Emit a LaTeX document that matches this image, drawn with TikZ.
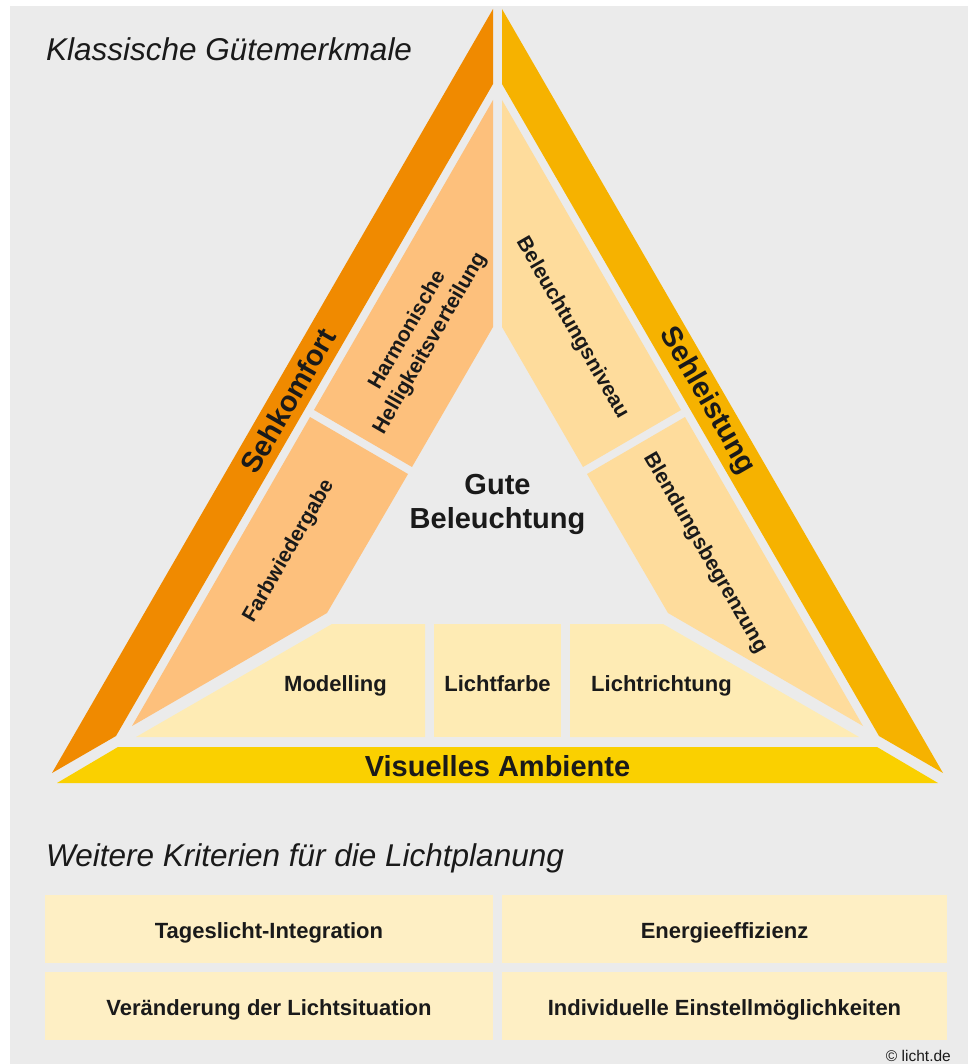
\documentclass[tikz,border=0pt]{standalone}
\usepackage{fontspec}
\setmainfont{Liberation Sans}
\definecolor{bg}{HTML}{EBEBEB}
\definecolor{bandL}{HTML}{F08A00}
\definecolor{bandR}{HTML}{F6B200}
\definecolor{bandB}{HTML}{FAD000}
\definecolor{pieceL}{HTML}{FDC07C}
\definecolor{pieceR}{HTML}{FEDC9C}
\definecolor{pieceB}{HTML}{FEEBB4}
\definecolor{boxc}{HTML}{FEEFC4}
\definecolor{txt}{HTML}{1A1A1A}
\begin{document}
\begin{tikzpicture}[x=1pt,y=-1pt,
  lbl/.style={font=\bfseries\fontsize{21}{26}\selectfont, text=txt, align=center, inner sep=0pt},
  flat/.style={font=\bfseries\fontsize{22}{26}\selectfont, text=txt, inner sep=0pt, anchor=base},
  big/.style={font=\bfseries\fontsize{29}{34}\selectfont, text=txt, align=center, inner sep=0pt},
  boxlbl/.style={font=\bfseries\fontsize{22}{26}\selectfont, text=txt, inner sep=0pt, anchor=base},
  title/.style={font=\itshape\fontsize{31.5}{36}\selectfont, text=txt, inner sep=0pt}]
\useasboundingbox (0,0) rectangle (977,1064);
\fill[white] (0,0) rectangle (977,1064);
\fill[bg] (10,6) rectangle (968,1064);
% outer bands
\fill[bandL] (493,9) -- (493,84) -- (116,736) -- (52,773) -- cycle;
\fill[bandR] (502,9) -- (502,84) -- (879,736) -- (943,773) -- cycle;
\fill[bandB] (118,747) -- (877,747) -- (938,783) -- (57,783) -- cycle;
% left inner pieces
\fill[pieceL] (493,100) -- (493,327) -- (412,467) -- (314,410) -- cycle;
\fill[pieceL] (310,417) -- (408,474) -- (327,613) -- (132,726) -- cycle;
% right inner pieces
\fill[pieceR] (502,100) -- (502,327) -- (583,467) -- (681,410) -- cycle;
\fill[pieceR] (685,417) -- (587,474) -- (668,613) -- (863,726) -- cycle;
% bottom inner pieces
\fill[pieceB] (332,624) -- (425,624) -- (425,737) -- (136,737) -- cycle;
\fill[pieceB] (434,624) -- (561,624) -- (561,737) -- (434,737) -- cycle;
\fill[pieceB] (570,624) -- (663,624) -- (859,737) -- (570,737) -- cycle;
% lower boxes
\fill[boxc] (45,895) rectangle (493,963);
\fill[boxc] (502,895) rectangle (947,963);
\fill[boxc] (45,972) rectangle (493,1040);
\fill[boxc] (502,972) rectangle (947,1040);
% texts
\node[title, anchor=base west] (t1) at (46,61) {Klassische Gütemerkmale};
\node[title, anchor=base west] (t2) at (46,866) {Weitere Kriterien für die Lichtplanung};
\node[big, rotate=60] (sk) at (288,401) {Sehkomfort};
\node[big, rotate=-60] (sl) at (707,401) {Sehleistung};
\node[big, anchor=base] (va) at (497.5,776) {Visuelles Ambiente};
\node[big] (gb) at (497.5,504) {Gute\\Beleuchtung};
\node[lbl, rotate=60] (hh) at (419,337) {Harmonische\\Helligkeitsverteilung};
\node[lbl, rotate=60] (fw) at (289,551) {Farbwiedergabe};
\node[lbl, rotate=-60] (bn) at (572,328) {Beleuchtungsniveau};
\node[lbl, rotate=-60] (bb) at (705,553) {Blendungsbegrenzung};
\node[flat] (mo) at (335.5,691) {Modelling};
\node[flat] (lf) at (497.5,691) {Lichtfarbe};
\node[flat] (lr) at (661.5,691) {Lichtrichtung};
\node[boxlbl] (b1) at (269,938) {Tageslicht-Integration};
\node[boxlbl] (b2) at (724.5,938) {Energieeffizienz};
\node[boxlbl] (b3) at (269,1015) {Veränderung der Lichtsituation};
\node[boxlbl] (b4) at (724.5,1015) {Individuelle Einstellmöglichkeiten};
\node[font=\fontsize{15.5}{18}\selectfont, text=txt, inner sep=0pt, anchor=base east] (cp) at (951,1061) {© licht.de};
\end{tikzpicture}
\end{document}
